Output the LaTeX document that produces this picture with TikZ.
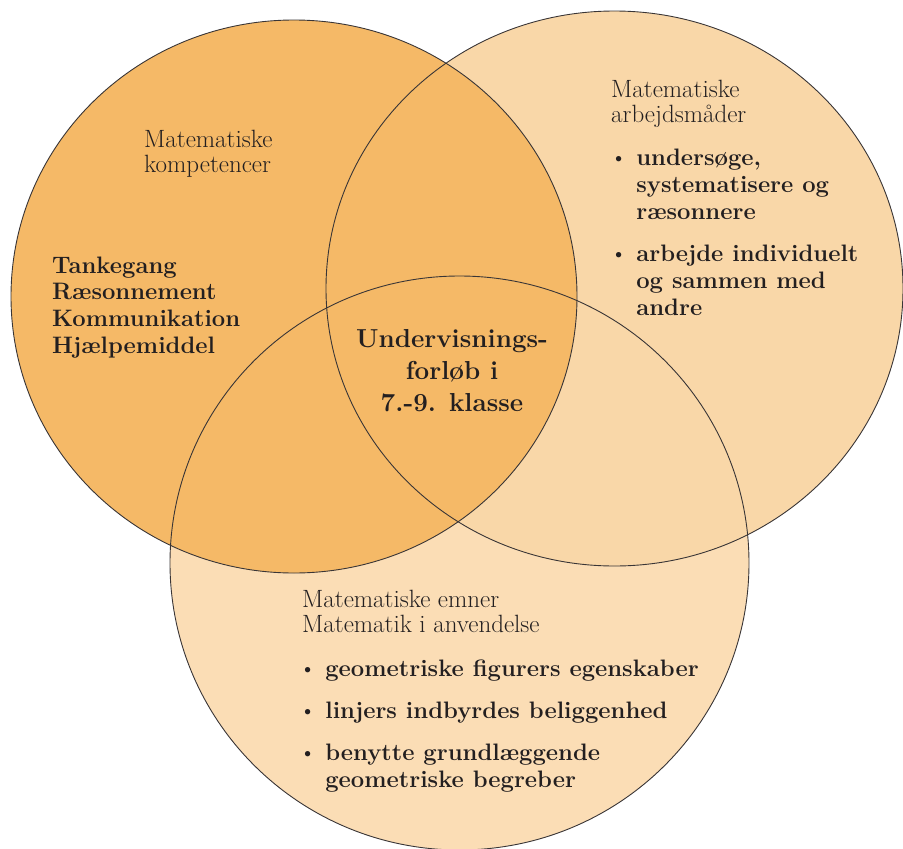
\documentclass[tikz,border=0pt]{standalone}
\usepackage{tikz}

\definecolor{kompfill}{HTML}{F5B967}
\definecolor{arbfill}{HTML}{F9D7A8}
\definecolor{emnfill}{HTML}{FBDDB5}
\definecolor{ink}{HTML}{231F20}

\newcommand{\vennrows}[1]{\begin{tabular}[t]{@{}l@{}}#1\end{tabular}}
\newcommand{\vennitems}[1]{\begin{tabular}[t]{@{}l@{\hspace{9pt}}l@{}}#1\end{tabular}}
\newcommand{\dotmark}{{\mdseries\textbullet}}

\tikzset{
  rim/.style={draw=ink!90, line width=0.9pt},
  head/.style={inner sep=0pt, anchor=base west, text=ink, font=\fontsize{25}{25.5}\selectfont},
  boldlist/.style={inner sep=0pt, anchor=base west, text=ink, font=\fontsize{23.8}{27}\selectfont\bfseries},
  kernel/.style={inner sep=0pt, anchor=base, text=ink, font=\fontsize{26}{32}\selectfont\bfseries},
}

\begin{document}
\begin{tikzpicture}[x=1pt, y=-1pt]
        \useasboundingbox (0,0) rectangle (903,849);

        \fill[emnfill] (459.5,563) ellipse [x radius=289.5pt, y radius=287pt];
        \fill[arbfill] (614.5,288.5) ellipse [x radius=288.5pt, y radius=277.5pt];
        \fill[kompfill] (294,296.5) ellipse [x radius=283pt, y radius=276.5pt];

        \draw[rim] (459.5,563) ellipse [x radius=289.5pt, y radius=287pt];
        \draw[rim] (614.5,288.5) ellipse [x radius=288.5pt, y radius=277.5pt];
        \draw[rim] (294,296.5) ellipse [x radius=283pt, y radius=276.5pt];

        \node[head] (kompHead) at (144,147) {\vennrows{Matematiske\\kompetencer}};
        \node[boldlist, font=\fontsize{23.8}{26.7}\selectfont\bfseries] (kompList) at (52,273)
              {\vennrows{Tankegang\\Ræsonnement\\Kommunikation\\Hjælpemiddel}};

        \node[head] (arbHead) at (611,97) {\vennrows{Matematiske\\arbejdsmåder}};
        \node[boldlist] (arbList) at (610,165)
              {\vennitems{\dotmark & undersøge,\\ & systematisere og\\ & ræsonnere\\[15pt]
                          \dotmark & arbejde individuelt\\ & og sammen med\\ & andre}};

        \node[head] (emnHead) at (302,607) {\vennrows{Matematiske emner\\Matematik i anvendelse}};
        \node[boldlist] (emnList) at (299,676)
              {\vennitems{\dotmark & geometriske figurers egenskaber\\[15pt]
                          \dotmark & linjers indbyrdes beliggenhed\\[15pt]
                          \dotmark & benytte grundlæggende\\ & geometriske begreber}};

        \node[kernel] (forloeb) at (452,347)
              {\begin{tabular}[t]{@{}c@{}}Undervisnings-\\forløb i\\7.-9. klasse\end{tabular}};
\end{tikzpicture}
\end{document}
